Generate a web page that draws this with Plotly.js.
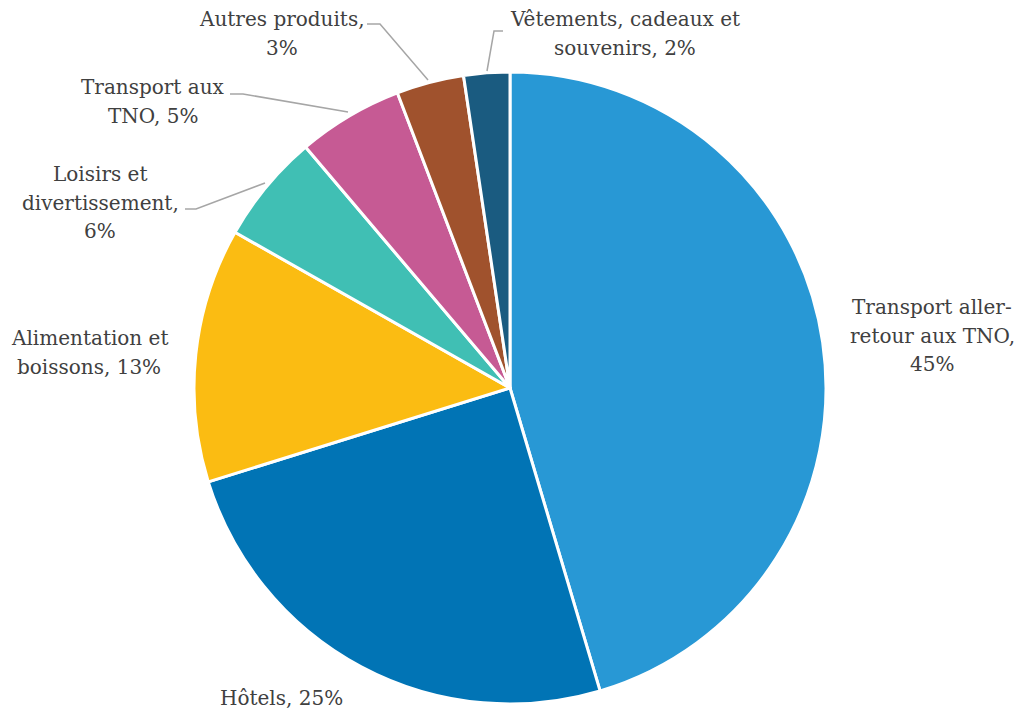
<!DOCTYPE html>
<html><head><meta charset="utf-8">
<script src="https://cdn.plot.ly/plotly-3.0.1.min.js"></script>
<style>body{margin:0;background:#fff}#c{width:1014px;height:715px}</style>
</head><body><div id="c"></div>
<script>
var categories = ["Transport aller-retour aux TNO","Hôtels","Alimentation et boissons","Loisirs et divertissement","Transport aux TNO","Autres produits","Vêtements, cadeaux et souvenirs"];
var values = [45.4, 24.8, 13.0, 5.6, 5.4, 3.45, 2.35];
var labelLines = [["Transport aller-","retour aux TNO,"],["Hôtels,"],["Alimentation et","boissons,"],["Loisirs et","divertissement,"],["Transport aux","TNO,"],["Autres produits,"],["Vêtements, cadeaux et","souvenirs,"]];
var colors = ["#2898d5","#0174b5","#fbbc12","#40bfb4","#c65a94","#a0522d","#1a5b80"];

var W=1014,H=715;
function px(x){return x/W;} function py(y){return 1-y/H;}
var total = values.reduce(function(a,b){return a+b;},0);
function pct(i){return Math.round(values[i]/total*100)+"%";}
function labelRows(i){
  var l = labelLines[i].slice();
  var last = l[l.length-1];
  if (i===1 || i===2 || i===4 || i===6) l[l.length-1] = last+" "+pct(i);
  else l.push(pct(i));
  return l;
}
var pos = [[932,307],[281,698],[89,338],[100,174],[153,87],[282,19],[625,19]];
var lineGap = 28.6;
var annotations = [];
pos.forEach(function(p,i){
  labelRows(i).forEach(function(t,k){
    annotations.push({x:px(p[0]),y:py(p[1]+k*lineGap),xref:"paper",yref:"paper",text:t,showarrow:false,
      xanchor:"center",yanchor:"middle",align:"center",
      font:{family:"DejaVu Serif",size:20,color:"#404040"}});
  });
});
var leaders = [
  [[367,24],[380,24],[428,80]],
  [[503,31],[494,31],[487,71]],
  [[230,94],[243,94],[348,112]],
  [[185,209],[196,209],[265,183]]
];
var shapes = leaders.map(function(L){
  var d = "M"+L.map(function(p){return px(p[0])+","+py(p[1]);}).join(" L");
  return {type:"path",xref:"paper",yref:"paper",path:d,line:{color:"#a6a6a6",width:1.5}};
});
var cx=510, cy=388, r=316;
Plotly.newPlot("c",[{
  type:"pie",labels:categories,values:values,sort:false,direction:"clockwise",rotation:0,
  marker:{colors:colors,line:{color:"#ffffff",width:3}},textinfo:"none",hoverinfo:"label+percent",
  domain:{x:[(cx-r)/W,(cx+r)/W],y:[(H-cy-r)/H,(H-cy+r)/H]}
}],{
  width:W,height:H,margin:{l:0,r:0,t:0,b:0},showlegend:false,
  paper_bgcolor:"#ffffff",annotations:annotations,shapes:shapes
},{staticPlot:true});
</script></body></html>
